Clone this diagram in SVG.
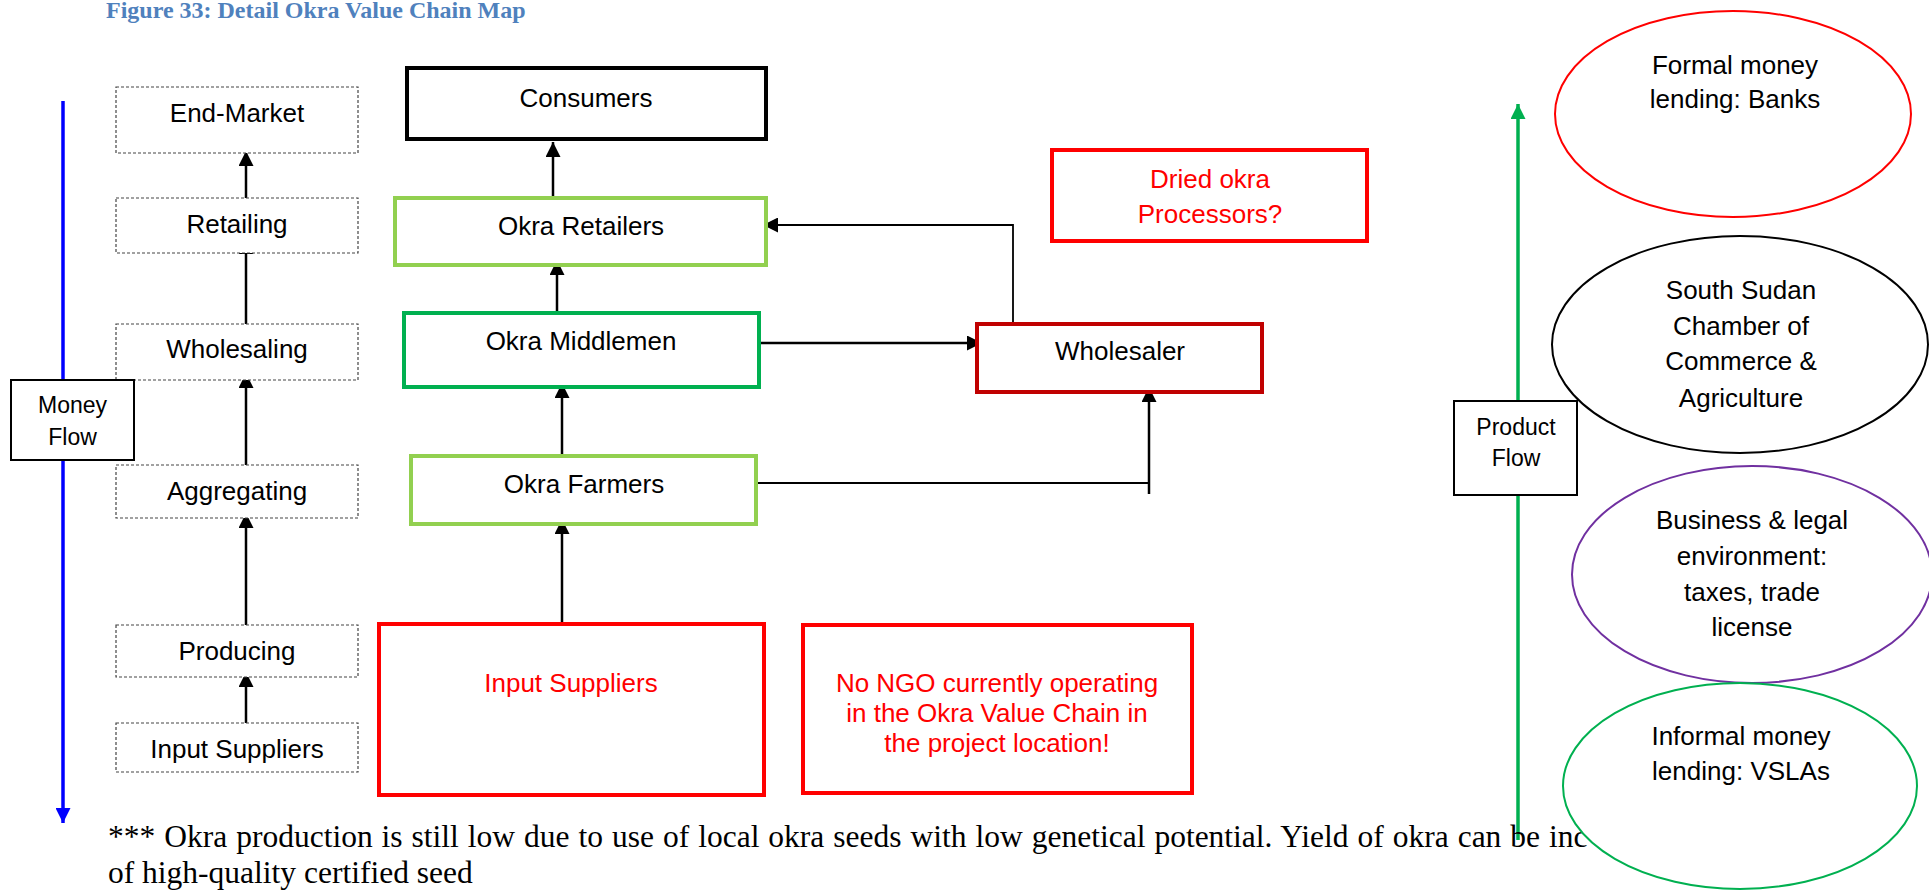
<svg xmlns="http://www.w3.org/2000/svg" width="1929" height="890" viewBox="0 0 1929 890">
  <style>
    .lbl { font-family: "Liberation Sans", Arial, sans-serif; font-size: 26px; fill: #000; text-anchor: middle; }
    .lbl-sm { font-family: "Liberation Sans", Arial, sans-serif; font-size: 23px; fill: #000; text-anchor: middle; }
    .red-txt { fill: #ff0000; }
    .stage { fill: #fff; stroke: #444; stroke-width: 1.2; stroke-dasharray: 3 2; }
    .actor-lg { fill: #fff; stroke: #92d050; stroke-width: 4; }
    .actor-dg { fill: #fff; stroke: #00b050; stroke-width: 4; }
    .actor-red { fill: #fff; stroke: #ff0000; stroke-width: 4; }
    .actor-dred { fill: #fff; stroke: #c00000; stroke-width: 4; }
    .flowbox { fill: #fff; stroke: #000; stroke-width: 2; }
    .conn { fill: none; stroke: #000; stroke-width: 2.5; }
    .conn-thin { fill: none; stroke: #000; stroke-width: 1.8; }
    .oval { fill: #fff; stroke-width: 2; }
    .title { font-family: "Liberation Serif", "Times New Roman", serif; font-size: 24px; font-weight: bold; fill: #4f81bd; }
    .note { font-family: "Liberation Serif", "Times New Roman", serif; font-size: 31.5px; fill: #000; }
  </style>
  <defs>
    <marker id="arr" viewBox="0 0 15 15" refX="15" refY="7.5" markerWidth="15" markerHeight="15" markerUnits="userSpaceOnUse" orient="auto">
      <path d="M0,0 L15,7.5 L0,15 z" fill="#000"/>
    </marker>
    <marker id="arr-blue" viewBox="0 0 15 15" refX="15" refY="7.5" markerWidth="15" markerHeight="15" markerUnits="userSpaceOnUse" orient="auto">
      <path d="M0,0 L15,7.5 L0,15 z" fill="#0000ff"/>
    </marker>
    <marker id="arr-green" viewBox="0 0 15 15" refX="15" refY="7.5" markerWidth="15" markerHeight="15" markerUnits="userSpaceOnUse" orient="auto">
      <path d="M0,0 L15,7.5 L0,15 z" fill="#00b050"/>
    </marker>
  </defs>

  <rect x="0" y="0" width="1929" height="890" fill="#fff"/>

  <text class="title" x="106" y="18">Figure 33: Detail Okra Value Chain Map</text>

  <!-- Money flow axis (downward) -->
  <line x1="63" y1="101" x2="63" y2="823" stroke="#0000ff" stroke-width="3.5" marker-end="url(#arr-blue)"/>
  <!-- Product flow axis (upward) -->
  <line x1="1518" y1="840" x2="1518" y2="104" stroke="#00b050" stroke-width="3.5" marker-end="url(#arr-green)"/>

  <!-- Connectors -->
  <g id="connectors">
    <!-- value chain stages -->
    <line class="conn" x1="246" y1="728" x2="246" y2="672" marker-end="url(#arr)"/>
    <line class="conn" x1="246" y1="630" x2="246" y2="513" marker-end="url(#arr)"/>
    <line class="conn" x1="246" y1="467" x2="246" y2="373" marker-end="url(#arr)"/>
    <line class="conn" x1="246" y1="325" x2="246" y2="239" marker-end="url(#arr)"/>
    <line class="conn" x1="246" y1="198" x2="246" y2="151" marker-end="url(#arr)"/>
    <!-- actors -->
    <line class="conn" x1="562" y1="635" x2="562" y2="519" marker-end="url(#arr)"/>
    <line class="conn" x1="562" y1="462" x2="562" y2="383" marker-end="url(#arr)"/>
    <line class="conn" x1="557" y1="317" x2="557" y2="260" marker-end="url(#arr)"/>
    <line class="conn" x1="553" y1="203" x2="553" y2="142" marker-end="url(#arr)"/>
    <line class="conn" x1="756" y1="343" x2="982" y2="343" marker-end="url(#arr)"/>
    <path class="conn-thin" d="M756,483 H1149"/>
    <line class="conn" x1="1149" y1="494" x2="1149" y2="387" marker-end="url(#arr)"/>
    <path class="conn-thin" d="M1013,329 V225 H763" marker-end="url(#arr)"/>
  </g>

  <!-- Value chain stages -->
  <g id="stage-end-market"><rect class="stage" x="116" y="87" width="242" height="66"/><text class="lbl" x="237" y="122">End-Market</text></g>
  <g id="stage-retailing"><rect class="stage" x="116" y="198" width="242" height="55"/><text class="lbl" x="237" y="233">Retailing</text></g>
  <g id="stage-wholesaling"><rect class="stage" x="116" y="324" width="242" height="56"/><text class="lbl" x="237" y="358">Wholesaling</text></g>
  <g id="stage-aggregating"><rect class="stage" x="116" y="465" width="242" height="53"/><text class="lbl" x="237" y="500">Aggregating</text></g>
  <g id="stage-producing"><rect class="stage" x="116" y="625" width="242" height="52"/><text class="lbl" x="237" y="660">Producing</text></g>
  <g id="stage-inputs"><rect class="stage" x="116" y="723" width="242" height="49"/><text class="lbl" x="237" y="758">Input Suppliers</text></g>

  <g id="money-flow"><rect class="flowbox" x="11" y="380" width="123" height="80"/><text class="lbl-sm" x="72.5" y="413">Money</text><text class="lbl-sm" x="72.5" y="445">Flow</text></g>

  <!-- Actors -->
  <g id="consumers"><rect x="407" y="68" width="359" height="71" fill="#fff" stroke="#000" stroke-width="4"/><text class="lbl" x="586" y="107">Consumers</text></g>
  <g id="retailers"><rect class="actor-lg" x="395" y="198" width="371" height="67"/><text class="lbl" x="581" y="235">Okra Retailers</text></g>
  <g id="middlemen"><rect class="actor-dg" x="404" y="313" width="355" height="74"/><text class="lbl" x="581" y="350">Okra Middlemen</text></g>
  <g id="farmers"><rect class="actor-lg" x="411" y="456" width="345" height="68"/><text class="lbl" x="584" y="493">Okra Farmers</text></g>
  <g id="wholesaler"><rect class="actor-dred" x="977" y="324" width="285" height="68"/><text class="lbl" x="1120" y="360">Wholesaler</text></g>
  <g id="processors"><rect class="actor-red" x="1052" y="150" width="315" height="91"/><text class="lbl red-txt" x="1210" y="188">Dried okra</text><text class="lbl red-txt" x="1210" y="223">Processors?</text></g>
  <g id="input-suppliers"><rect class="actor-red" x="379" y="624" width="385" height="171"/><text class="lbl red-txt" x="571" y="692">Input Suppliers</text></g>
  <g id="ngo-note"><rect class="actor-red" x="803" y="625" width="389" height="168"/><text class="lbl red-txt" x="997" y="692">No NGO currently operating</text><text class="lbl red-txt" x="997" y="722">in the Okra Value Chain in</text><text class="lbl red-txt" x="997" y="752">the project location!</text></g>

  <!-- Footnote (first line justified) -->
  <text class="note" x="108" y="847" word-spacing="1.1">*** Okra production is still low due to use of local okra seeds with low genetical potential. Yield of okra can be inc</text>
  <text class="note" x="108" y="883">of high-quality certified seed</text>

  <!-- Supporting environment -->
  <g id="banks"><ellipse class="oval" cx="1733" cy="114" rx="178" ry="103" stroke="#ff0000"/><text class="lbl" x="1735" y="74">Formal money</text><text class="lbl" x="1735" y="108">lending: Banks</text></g>
  <g id="chamber"><ellipse class="oval" cx="1740" cy="344.5" rx="188" ry="108.5" stroke="#000"/><text class="lbl" x="1741" y="299">South Sudan</text><text class="lbl" x="1741" y="335">Chamber of</text><text class="lbl" x="1741" y="370">Commerce &amp;</text><text class="lbl" x="1741" y="407">Agriculture</text></g>
  <g id="legal"><ellipse class="oval" cx="1752" cy="574.5" rx="180" ry="108.5" stroke="#7030a0"/><text class="lbl" x="1752" y="529">Business &amp; legal</text><text class="lbl" x="1752" y="565">environment:</text><text class="lbl" x="1752" y="601">taxes, trade</text><text class="lbl" x="1752" y="636">license</text></g>
  <g id="vslas"><ellipse class="oval" cx="1740" cy="786" rx="177" ry="103" stroke="#00b050"/><text class="lbl" x="1741" y="745">Informal money</text><text class="lbl" x="1741" y="780">lending: VSLAs</text></g>

  <g id="product-flow"><rect class="flowbox" x="1454" y="401" width="123" height="94"/><text class="lbl-sm" x="1516" y="435">Product</text><text class="lbl-sm" x="1516" y="466">Flow</text></g>
</svg>
